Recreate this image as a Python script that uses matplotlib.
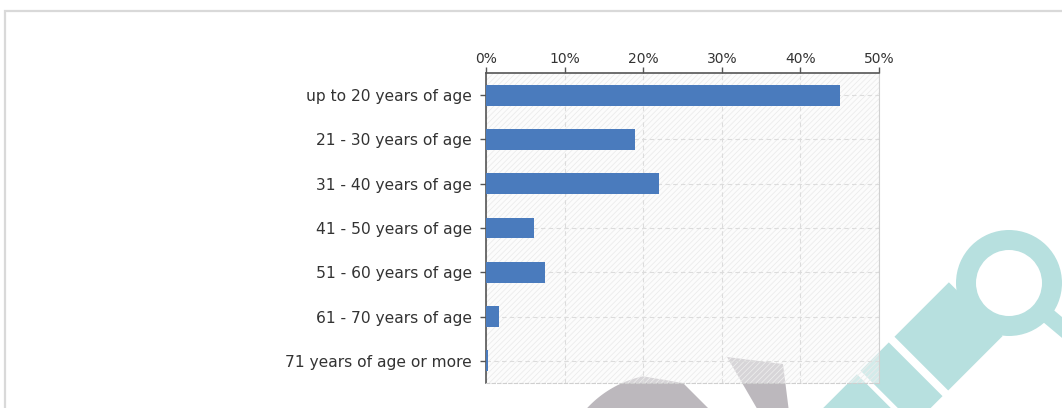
import numpy as np
import matplotlib
matplotlib.use("Agg")
import matplotlib.pyplot as plt
from matplotlib.patches import Rectangle, Polygon, Wedge
from matplotlib.ticker import FuncFormatter

# Share of respondents per age group (percent)
age_groups = [
    "up to 20 years of age",
    "21 - 30 years of age",
    "31 - 40 years of age",
    "41 - 50 years of age",
    "51 - 60 years of age",
    "61 - 70 years of age",
    "71 years of age or more",
]
shares = [45.0, 19.0, 22.0, 6.1, 7.5, 1.6, 0.3]
x_ticks = [0, 10, 20, 30, 40, 50]

bar_color = "#4a7bbd"
text_color = "#333333"

plt.rcParams["hatch.linewidth"] = 0.6
plt.rcParams["font.family"] = ["DejaVu Sans"]

fig = plt.figure(figsize=(10.62, 4.08), dpi=100)
fig.patch.set_facecolor("white")

# Light frame around the chart area
frame = Rectangle((5 / 1062, -0.1), 1.2, 1 - 11 / 408 + 0.1,
                  transform=fig.transFigure, fill=False,
                  edgecolor="#d9d9d9", linewidth=1.6, zorder=0)
fig.add_artist(frame)

# Decorative emblem shapes, drawn in pixel space behind the chart
deco = fig.add_axes([0, 0, 1, 1], zorder=-1)
deco.set_xlim(0, 1062)
deco.set_ylim(408, 0)
deco.axis("off")
teal = "#b7e0df"
grey = "#bcb8bd"

ring_c = np.array([1009.0, 283.0])
deco.add_patch(Wedge(tuple(ring_c), 53, 0, 360, width=20, color=teal, lw=0))


def band(center, d0, d1, half, angle_deg, shift=0.0):
    a = np.radians(angle_deg)
    u = np.array([np.cos(a), np.sin(a)])
    n = np.array([-u[1], u[0]])
    c = center + n * shift
    pts = [c + u * d0 + n * half, c + u * d1 + n * half,
           c + u * d1 - n * half, c + u * d0 - n * half]
    return Polygon(pts, closed=True, color=teal, lw=0)


# handle towards the lower left, split into segments
deco.add_patch(band(ring_c, 42, 119, 38, 135, shift=5))
deco.add_patch(band(ring_c, 127, 167, 38, 135, shift=5))
deco.add_patch(band(ring_c, 172, 260, 38, 135, shift=5))
# short arm to the right of the ring
deco.add_patch(band(ring_c, 45, 95, 8, 40))

# grey disc cut by a diagonal
cxg, cyg, rg = 665, 480, 106
theta = np.linspace(np.radians(205), np.radians(258), 40)
arc = [(cxg + rg * np.cos(t), cyg + rg * np.sin(t)) for t in theta]
disc_pts = arc + [(683, 383), (712, 412), (560, 412)]
deco.add_patch(Polygon(disc_pts, closed=True, color=grey, lw=0))
deco.add_patch(Polygon([(727, 357), (783, 364), (789, 412), (759, 412)],
                       closed=True, color=grey, lw=0))

ax = fig.add_axes([486 / 1062, 1 - 383 / 408, 393 / 1062, 310 / 408])
ax.set_facecolor("none")

# Pale, translucent textured backdrop of the plotting area
ax.add_patch(Rectangle((0, 0), 1, 1, transform=ax.transAxes,
                       facecolor=(0.975, 0.975, 0.975, 0.45), edgecolor="none",
                       linewidth=0, zorder=0))
ax.add_patch(Rectangle((0, 0), 1, 1, transform=ax.transAxes,
                       facecolor="none", edgecolor="#ececec",
                       hatch="//////", linewidth=0, zorder=0))

y = list(range(len(age_groups)))
ax.barh(y, shares, height=0.47, color=bar_color, zorder=3)

ax.set_xlim(0, 50)
ax.set_ylim(len(age_groups) - 0.5, -0.5)

ax.xaxis.tick_top()
ax.set_xticks(x_ticks)
ax.xaxis.set_major_formatter(FuncFormatter(lambda v, p: f"{v:.0f}%"))
ax.set_yticks(y)
ax.set_yticklabels(age_groups)

ax.tick_params(axis="x", direction="out", length=4, width=1, color="#555555",
               labelsize=10, labelcolor=text_color, pad=1)
ax.tick_params(axis="y", direction="out", length=4, width=1, color="#555555",
               labelsize=11.2, labelcolor=text_color, pad=6)

ax.grid(True, axis="both", linestyle=(0, (4, 3)), color="#dcdcdc",
        linewidth=0.8, zorder=1)
ax.set_axisbelow(True)

ax.spines["top"].set_color("#555555")
ax.spines["top"].set_linewidth(1.2)
ax.spines["left"].set_color("#555555")
ax.spines["left"].set_linewidth(1.2)
ax.spines["right"].set_color("#d0d0d0")
ax.spines["right"].set_linewidth(0.8)
ax.spines["bottom"].set_color("#cfcfcf")
ax.spines["bottom"].set_linestyle((0, (3, 2)))
ax.spines["bottom"].set_linewidth(0.8)

fig.savefig("out.png", dpi=100)
